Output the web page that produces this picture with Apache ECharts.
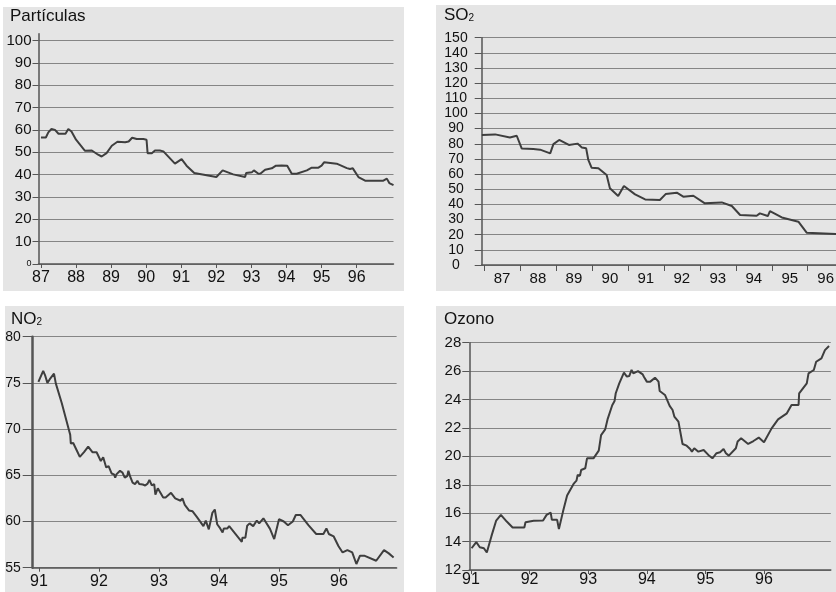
<!DOCTYPE html>
<html><head><meta charset="utf-8">
<script src="https://cdn.jsdelivr.net/npm/echarts@6/dist/echarts.min.js"></script>
<style>html,body{margin:0;padding:0;background:#fff}#c{width:836px;height:592px}</style>
</head><body><div id="c"></div>
<script>
// ---- Partículas ----
const partYears = [87.0,87.14,87.21,87.3,87.4,87.5,87.7,87.78,87.87,88.0,88.25,88.45,88.63,88.73,88.87,89.02,89.18,89.4,89.5,89.6,89.73,89.92,90.01,90.04,90.16,90.25,90.39,90.49,90.82,91.01,91.15,91.37,92.0,92.18,92.48,92.82,92.85,93.01,93.07,93.2,93.26,93.39,93.58,93.7,93.86,94.02,94.15,94.29,94.58,94.72,94.91,95.0,95.07,95.43,95.72,95.81,95.89,96.05,96.24,96.76,96.86,96.93,97.05];
const partValues = [56.6,56.6,58.9,60.4,60.0,58.3,58.3,60.4,59.3,55.6,50.7,50.8,48.9,48.1,49.6,52.9,54.7,54.5,54.8,56.5,55.9,55.9,55.6,49.6,49.6,50.8,50.8,50.4,44.9,46.9,44.0,40.7,38.9,41.9,40.1,38.9,40.7,41.0,41.9,40.4,40.5,42.2,42.8,44.0,44.1,44.0,40.4,40.4,41.9,43.1,43.1,44.0,45.5,44.9,42.9,42.5,42.8,38.9,37.3,37.3,38.2,36.2,35.3];
const partYTicks = [0,10,20,30,40,50,60,70,80,90,100];
const partXTicks = [87,88,89,90,91,92,93,94,95,96];

// ---- SO2 ----
const so2Years = [86.94,87.31,87.72,87.91,88.05,88.37,88.56,88.84,88.93,89.09,89.36,89.6,89.72,89.84,89.9,89.99,90.18,90.41,90.5,90.73,90.89,91.2,91.48,91.89,92.05,92.36,92.54,92.82,93.14,93.61,93.89,94.12,94.58,94.67,94.89,94.95,95.28,95.74,95.97,96.79,97.05];
const so2Values = [85.8,86.2,84.2,85.3,76.8,76.5,76.1,73.7,79.8,82.5,79.2,80.1,77.6,77.0,69.3,64.2,63.8,59.4,50.6,45.5,52.1,46.6,43.3,42.9,46.8,47.7,45.1,45.7,40.7,41.3,38.9,33.0,32.5,34.1,32.3,35.6,31.4,28.6,21.3,20.5,20.3];
const so2XTicks = [87,88,89,90,91,92,93,94,95,96,97];
const so2XLabels = [87.5,88.5,89.5,90.5,91.5,92.5,93.5,94.5,95.5,96.5];

// ---- NO2 ----
const no2Years = [90.99,91.01,91.04,91.07,91.1,91.14,91.18,91.25,91.28,91.38,91.52,91.53,91.57,91.6,91.64,91.68,91.75,91.82,91.89,91.96,91.99,92.03,92.07,92.12,92.16,92.18,92.21,92.25,92.27,92.29,92.35,92.39,92.43,92.47,92.49,92.52,92.56,92.6,92.64,92.67,92.7,92.73,92.77,92.81,92.84,92.88,92.92,92.94,92.98,93.07,93.11,93.2,93.27,93.36,93.39,93.43,93.5,93.56,93.63,93.74,93.78,93.83,93.89,93.93,93.96,93.97,94.02,94.06,94.08,94.14,94.17,94.27,94.38,94.39,94.44,94.47,94.51,94.57,94.63,94.67,94.74,94.85,94.92,95.0,95.08,95.15,95.23,95.28,95.36,95.49,95.62,95.74,95.79,95.83,95.91,95.99,96.06,96.14,96.22,96.29,96.35,96.42,96.62,96.75,96.83,96.91];
const no2Values = [75.1,75.4,75.6,76.3,75.85,75.0,75.4,76.0,74.95,72.8,69.4,68.45,68.5,68.6,67.55,67.0,67.5,68.1,67.5,67.5,67.4,66.55,66.95,65.85,66.0,65.9,65.2,65.1,64.75,65.1,65.5,65.3,64.75,64.9,65.5,64.85,64.2,64.05,64.4,64.05,64.2,64.0,63.9,64.1,64.5,63.9,64.05,62.9,63.6,62.6,62.6,63.1,62.5,62.25,62.5,61.8,61.2,61.1,60.5,59.5,60.1,59.15,60.95,61.3,61.5,59.7,59.25,58.8,59.25,59.25,59.5,58.7,57.8,58.25,58.25,59.55,59.8,59.5,60.1,59.8,60.35,59.2,58.1,60.25,60.0,59.6,60.0,60.7,60.7,59.6,58.65,58.65,59.25,58.65,58.4,57.35,56.65,56.9,56.65,55.4,56.3,56.3,55.75,56.9,56.55,56.1];
const no2XTicks = [91,92,93,94,95,96];

// ---- Ozono ----
const ozYears = [91.01,91.09,91.15,91.22,91.27,91.35,91.43,91.51,91.61,91.71,91.91,91.93,92.07,92.23,92.29,92.36,92.38,92.47,92.5,92.57,92.64,92.75,92.8,92.82,92.86,92.88,92.95,92.98,93.09,93.18,93.22,93.29,93.33,93.41,93.45,93.47,93.5,93.53,93.61,93.66,93.7,93.74,93.77,93.85,93.93,93.95,94.0,94.06,94.14,94.2,94.22,94.31,94.34,94.39,94.44,94.47,94.54,94.61,94.68,94.74,94.77,94.81,94.88,94.97,95.05,95.12,95.19,95.25,95.31,95.35,95.4,95.52,95.55,95.61,95.73,95.82,95.91,96.0,96.13,96.24,96.39,96.47,96.59,96.6,96.73,96.76,96.85,96.89,96.98,97.04,97.11];
const ozValues = [13.53,13.96,13.6,13.53,13.23,14.4,15.48,15.88,15.41,14.99,14.99,15.36,15.46,15.48,15.88,16.04,15.53,15.53,14.89,16.11,17.24,18.06,18.29,18.69,18.64,19.04,19.16,19.86,19.86,20.4,21.5,21.9,22.6,23.6,23.9,24.44,24.55,25.14,25.89,25.61,25.65,26.08,25.84,26.0,25.77,25.6,25.26,25.26,25.54,25.26,24.6,24.32,24.27,23.55,23.26,22.8,22.44,20.87,20.75,20.52,20.33,20.57,20.33,20.45,20.1,19.86,20.22,20.29,20.52,20.22,20.05,20.57,21.04,21.27,20.87,21.08,21.32,20.99,21.97,22.6,23.03,23.62,23.62,24.44,25.14,25.84,26.08,26.66,26.9,27.48,27.77];
const ozXTicks = [91,92,93,94,95,96];

const zip = (a, b) => a.map((x, i) => [x, b[i]]);
const FONT = "'Liberation Sans', Arial, sans-serif";
const BG = '#e5e5e5';
const GRIDC = '#858585';
const AXC = '#555';
const LINEC = '#3e3e3e';

function xAxis(idx, min, max, ticks, labels, o) {
  return {
    type: 'value', gridIndex: idx, min: min, max: max,
    axisLine: {show: true, onZero: false, lineStyle: {color: AXC, width: 1.5}},
    axisTick: {show: true, length: o.tickLen, customValues: ticks, lineStyle: {color: AXC, width: 1}},
    axisLabel: {customValues: labels, margin: o.margin, fontSize: o.fs, color: '#111', fontFamily: FONT,
      formatter: v => String(Math.floor(v + 1e-6))},
    splitLine: {show: false}
  };
}

function yAxis(idx, min, max, interval, o) {
  const ax = {
    type: 'value', gridIndex: idx, min: min, max: max, interval: interval,
    axisLine: {show: true, lineStyle: {color: AXC, width: o.axw || 1.5}},
    axisTick: {show: true, length: o.tickLen, lineStyle: {color: AXC, width: 1}},
    axisLabel: {margin: o.margin, fontSize: o.fs, color: '#111', fontFamily: FONT, align: o.align || 'right'},
    splitLine: {show: true, lineStyle: {color: GRIDC, width: 1}}
  };
  if (o.ticks) { ax.axisTick.customValues = o.ticks; ax.axisLabel.customValues = o.ticks; }
  if (o.formatter) ax.axisLabel.formatter = o.formatter;
  if (o.rich) ax.axisLabel.rich = o.rich;
  return ax;
}

const titleStyle = {fontSize: 17, fontWeight: 'normal', color: '#111', fontFamily: FONT,
  rich: {s: {fontSize: 10, color: '#111', fontFamily: FONT, padding: [6, 0, 0, 0]}}};

const chart = echarts.init(document.getElementById('c'), null, {renderer: 'canvas'});
chart.setOption({
  animation: false,
  backgroundColor: '#ffffff',
  graphic: [
    {type: 'rect', z: -100, silent: true, shape: {x: 3, y: 7, width: 401, height: 284}, style: {fill: BG}},
    {type: 'rect', z: -100, silent: true, shape: {x: 436, y: 5, width: 400, height: 286}, style: {fill: BG}},
    {type: 'rect', z: -100, silent: true, shape: {x: 5, y: 306, width: 399, height: 286}, style: {fill: BG}},
    {type: 'rect', z: -100, silent: true, shape: {x: 436, y: 306, width: 400, height: 286}, style: {fill: BG}}
  ],
  title: [
    {text: 'Partículas', left: 10, top: 8, padding: 0, textStyle: titleStyle},
    {text: 'SO{s|2}', left: 444, top: 7, padding: 0, textStyle: titleStyle},
    {text: 'NO{s|2}', left: 11, top: 311, padding: 0, textStyle: titleStyle},
    {text: 'Ozono', left: 444, top: 311, padding: 0, textStyle: titleStyle}
  ],
  grid: [
    {left: 38.5, top: 33.8, width: 355, height: 230.2, outerBoundsMode: 'none', containLabel: false},
    {left: 481.7, top: 37.7, width: 363.8, height: 227.3, outerBoundsMode: 'none', containLabel: false},
    {left: 32.7, top: 336.7, width: 363.9, height: 231, outerBoundsMode: 'none', containLabel: false},
    {left: 469.3, top: 342.7, width: 361.5, height: 227.3, outerBoundsMode: 'none', containLabel: false}
  ],
  xAxis: [
    xAxis(0, 86.93, 97.05, partXTicks, partXTicks, {tickLen: 4, margin: 6, fs: 16}),
    xAxis(1, 86.936, 97.05, so2XTicks, so2XLabels, {tickLen: 6, margin: 6, fs: 15}),
    xAxis(2, 90.895, 96.96, no2XTicks, no2XTicks, {tickLen: 4, margin: 6, fs: 16}),
    xAxis(3, 90.971, 97.14, ozXTicks, ozXTicks, {tickLen: 4, margin: 2, fs: 16})
  ],
  yAxis: [
    yAxis(0, 0, 103, 10, {tickLen: 6, margin: 7, fs: 15, ticks: partYTicks,
      formatter: v => v === 0 ? '{s|0}' : String(v),
      rich: {s: {fontSize: 9, color: '#111', fontFamily: FONT}}}),
    yAxis(1, 0, 150, 10, {tickLen: 7, margin: 25.7, fs: 14, align: 'center'}),
    yAxis(2, 55, 80, 5, {tickLen: 10, margin: 12, fs: 14, axw: 2.5}),
    yAxis(3, 12, 28, 2, {tickLen: 7, margin: 8, fs: 15})
  ],
  series: [
    {type: 'line', xAxisIndex: 0, yAxisIndex: 0, data: zip(partYears, partValues), showSymbol: false, lineStyle: {color: LINEC, width: 2}, z: 5},
    {type: 'line', xAxisIndex: 1, yAxisIndex: 1, data: zip(so2Years, so2Values), showSymbol: false, lineStyle: {color: LINEC, width: 2}, z: 5},
    {type: 'line', xAxisIndex: 2, yAxisIndex: 2, data: zip(no2Years, no2Values), showSymbol: false, lineStyle: {color: LINEC, width: 2}, z: 5},
    {type: 'line', xAxisIndex: 3, yAxisIndex: 3, data: zip(ozYears, ozValues), showSymbol: false, lineStyle: {color: LINEC, width: 2}, z: 5}
  ]
});
</script></body></html>
